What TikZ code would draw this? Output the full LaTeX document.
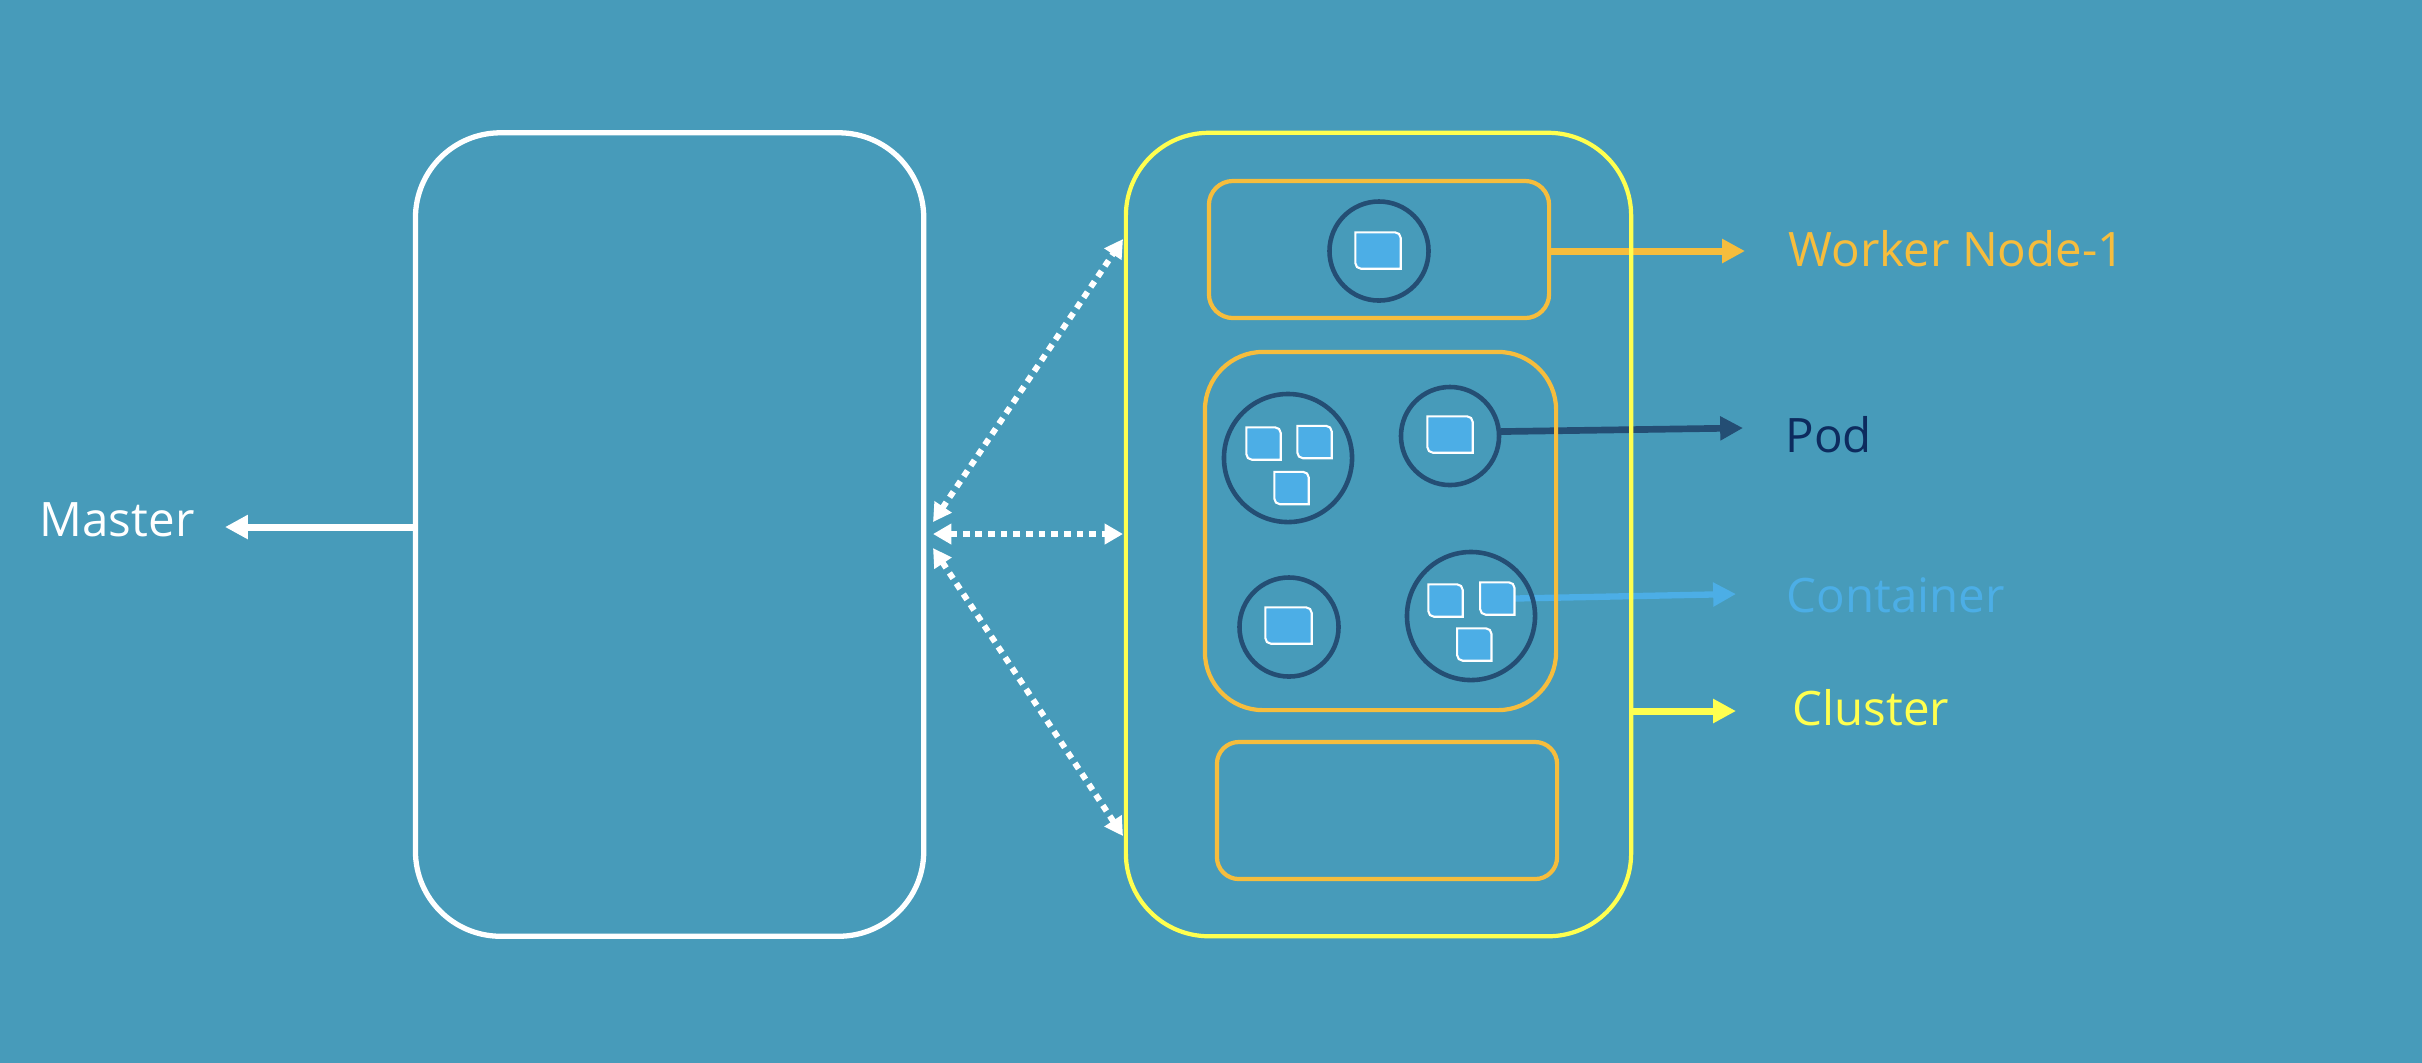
\documentclass[tikz,border=0pt]{standalone}
\usepackage{fontspec}
\setmainfont{Open Sans}
\usetikzlibrary{arrows.meta}
\definecolor{bgc}{HTML}{479BBA}
\definecolor{clusterc}{HTML}{FFFF4F}
\definecolor{workerc}{HTML}{F6BD3D}
\definecolor{podc}{HTML}{244E74}
\definecolor{contc}{HTML}{4CAEE6}
\definecolor{podtext}{HTML}{0D2B5E}
\pgfdeclarelayer{bglayer}
\pgfdeclarelayer{midlayer}
\pgfsetlayers{bglayer,midlayer,main}
\tikzset{
  masterbox/.style={draw=white, line width=1.5pt, rounded corners=0.85cm, inner sep=0pt, rectangle},
  clusterbox/.style={draw=clusterc, line width=1.2pt, rounded corners=0.83cm, inner sep=0pt, rectangle},
  workerbox/.style={draw=workerc, line width=1.2pt, inner sep=0pt, rectangle},
  podcirc/.style={draw=podc, line width=1.3pt, circle, inner sep=0pt},
  ctrstyle/.style={draw=white, fill=contc, line width=0.6pt},
  lbl/.style={inner sep=0pt, anchor=base west, font=\fontsize{13.5pt}{16pt}\selectfont},
  tipA/.style={arrows={-Triangle[length=6.5pt,width=6.5pt]}},
  dotarrow/.style={draw=white, line width=1.7pt, dash pattern=on 1.9pt off 1.7pt,
    arrows={Triangle[length=5.2pt,width=5.6pt]-Triangle[length=5.2pt,width=5.6pt]}},
}
\newcommand\ctrbox[5]{%
  \node[inner sep=0pt, minimum width=#4*0.01cm, minimum height=#5*0.01cm] (#1) at (#2,#3) {};
  \draw[ctrstyle] (#1.north east) -- (#1.south east) [rounded corners=1.6pt] -- (#1.south west) [sharp corners] -- (#1.north west) [rounded corners=1.6pt] -- cycle;}
\begin{document}
\begin{tikzpicture}[x=0.01cm, y=-0.01cm]
\useasboundingbox (0,0) rectangle (2422,1062);
\begin{pgfonlayer}{bglayer}
\fill[bgc] (-20,-20) rectangle (2442,1082);
\end{pgfonlayer}

% main boxes
\node[masterbox, minimum width=5.08cm, minimum height=8.03cm] (master) at (669.6,534.5) {};
\node[clusterbox, minimum width=5.05cm, minimum height=8.03cm] (cluster) at (1378.5,534.5) {};
\node[workerbox, rounded corners=0.24cm, minimum width=3.40cm, minimum height=1.37cm] (w1) at (1379,249.5) {};
\node[workerbox, rounded corners=0.58cm, minimum width=3.51cm, minimum height=3.58cm] (w2) at (1380.5,531) {};
\node[workerbox, rounded corners=0.22cm, minimum width=3.40cm, minimum height=1.37cm] (w3) at (1387,810.5) {};

% pods
\node[podcirc, minimum size=0.99cm] (p1) at (1379,251) {};
\node[podcirc, minimum size=1.28cm] (p2) at (1288,458) {};
\node[podcirc, minimum size=0.98cm] (p3) at (1450,436) {};
\node[podcirc, minimum size=0.99cm] (p4) at (1289,627) {};
\node[podcirc, minimum size=1.28cm] (p5) at (1471,616) {};

% containers
\ctrbox{k1}{1378}{250.5}{44}{35}
\ctrbox{k2a}{1263.5}{443.5}{33}{31}
\ctrbox{k2b}{1314.5}{442}{33}{31}
\ctrbox{k2c}{1291.5}{488}{33}{31}
\ctrbox{k3}{1450}{434.5}{44}{35}
\ctrbox{k4}{1288.5}{625.5}{45}{35}
\ctrbox{k5a}{1445.5}{600.5}{33}{31}
\ctrbox{k5b}{1497.3}{598.5}{33}{31}
\ctrbox{k5c}{1474.3}{644.5}{33}{31}

% labels
\node[lbl, text=white] (tmaster) at (39,536) {Master};
\node[lbl, text=workerc] (tworker) at (1788,266) {Worker Node-1};
\node[lbl, text=podtext] (tpod) at (1785,452) {Pod};
\node[lbl, text=contc] (tcont) at (1786,612) {Container};
\node[lbl, text=clusterc] (tcluster) at (1792,725) {Cluster};

% arrow end coordinates
\coordinate (mtip) at (225,527);
\coordinate (wtip) at (1745,251);
\coordinate (ptip) at (1743,428);
\coordinate (ctip) at (1736,594);
\coordinate (cltip) at (1736,711);
\coordinate (d1a) at (933,522);
\coordinate (d1b) at (1123,239);
\coordinate (d2a) at (933,534);
\coordinate (d2b) at (1123,534);
\coordinate (d3a) at (933,548);
\coordinate (d3b) at (1123,836);

\begin{pgfonlayer}{midlayer}
\draw[white, line width=2pt, tipA] (master.west |- mtip) -- (mtip);
\draw[workerc, line width=2pt, tipA] (w1.east |- wtip) -- (wtip);
\draw[podc, line width=1.9pt, tipA] (p3.5) -- (ptip);
\draw[contc, line width=1.8pt, tipA] (k5b.east) -- (ctip);
\draw[clusterc, line width=2pt, tipA] (cluster.east |- cltip) -- (cltip);
\end{pgfonlayer}

% dotted connections
\draw[dotarrow] (d1a) -- (d1b);
\draw[dotarrow] (d2a) -- (d2b);
\draw[dotarrow] (d3a) -- (d3b);
\end{tikzpicture}
\end{document}
